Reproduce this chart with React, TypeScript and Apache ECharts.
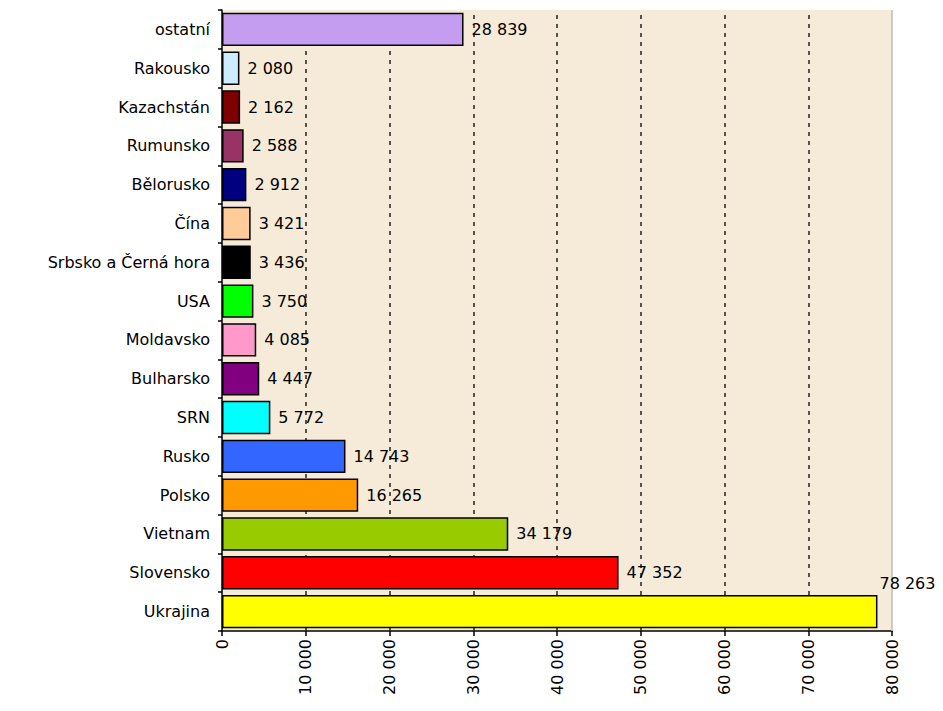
import React, { useEffect, useRef } from "react";
import * as echarts from "echarts";

const categories = [
  "Ukrajina",
  "Slovensko",
  "Vietnam",
  "Polsko",
  "Rusko",
  "SRN",
  "Bulharsko",
  "Moldavsko",
  "USA",
  "Srbsko a Černá hora",
  "Čína",
  "Bělorusko",
  "Rumunsko",
  "Kazachstán",
  "Rakousko",
  "ostatní",
];

const values = [
  78263, 47352, 34179, 16265, 14743, 5772, 4447, 4085, 3750, 3436, 3421, 2912,
  2588, 2162, 2080, 28839,
];

const barColors = [
  "#ffff00",
  "#ff0000",
  "#99cc00",
  "#ff9900",
  "#3366ff",
  "#00ffff",
  "#800080",
  "#ff99cc",
  "#00ff00",
  "#000000",
  "#ffcc99",
  "#000080",
  "#993366",
  "#800000",
  "#ccecff",
  "#c49cf0",
];

const tickValues = [0, 10000, 20000, 30000, 40000, 50000, 60000, 70000, 80000];
const gridValues = [10000, 20000, 30000, 40000, 50000, 60000, 70000];

const fmt = (v: number) =>
  String(Math.round(v)).replace(/\B(?=(\d{3})+(?!\d))/g, " ");

const FONT = "DejaVu Sans";

export default function App() {
  const ref = useRef<HTMLDivElement>(null);
  useEffect(() => {
    document.body.style.margin = "0";
    if (!ref.current) return;
    const chart = echarts.init(ref.current, undefined, { renderer: "svg" });
    chart.setOption({
      animation: false,
      backgroundColor: "#ffffff",
      grid: {
        left: 222,
        right: 51,
        top: 10,
        bottom: 80,
        show: true,
        backgroundColor: "#f6ebd9",
        borderWidth: 0,
      },
      xAxis: {
        type: "value",
        min: tickValues[0],
        max: tickValues[tickValues.length - 1],
        interval: 10000,
        axisLine: { show: true, lineStyle: { color: "#000", width: 1.5 } },
        axisTick: { show: true, length: 5, lineStyle: { color: "#000", width: 1.5 } },
        axisLabel: {
          rotate: 90,
          margin: 8,
          color: "#000",
          fontFamily: FONT,
          fontSize: 16,
          formatter: (v: number) => fmt(v),
        },
        splitLine: { show: false },
      },
      yAxis: {
        type: "category",
        data: categories,
        axisLine: { show: true, lineStyle: { color: "#000", width: 1.5 } },
        axisTick: { show: true, length: 4, lineStyle: { color: "#000", width: 1.5 } },
        axisLabel: {
          margin: 12,
          color: "#000",
          fontFamily: FONT,
          fontSize: 16,
        },
        splitLine: { show: false },
      },
      series: [
        {
          type: "bar",
          barCategoryGap: "14%",
          z: 3,
          data: values.map((v, i) => ({
            value: v,
            itemStyle: { color: barColors[i] },
            label:
              i === 0
                ? { position: "right", offset: [-6, -28] }
                : undefined,
          })),
          itemStyle: { borderColor: "#000", borderWidth: 1.5 },
          label: {
            show: true,
            position: "right",
            distance: 8,
            color: "#000",
            fontFamily: FONT,
            fontSize: 16,
            formatter: (p: any) => fmt(p.value),
          },
          markLine: {
            silent: true,
            symbol: "none",
            z: 1,
            label: { show: false },
            data: [
              ...gridValues.map((g) => ({
                xAxis: g,
                lineStyle: { color: "#222", width: 1.5, type: [4, 5] },
              })),
              {
                xAxis: tickValues[tickValues.length - 1],
                lineStyle: { color: "#bbbbbb", width: 1.5, type: "solid" },
              },
            ],
          },
        },
      ],
    });
    return () => chart.dispose();
  }, []);
  return <div ref={ref} style={{ width: 943, height: 711 }} />;
}
